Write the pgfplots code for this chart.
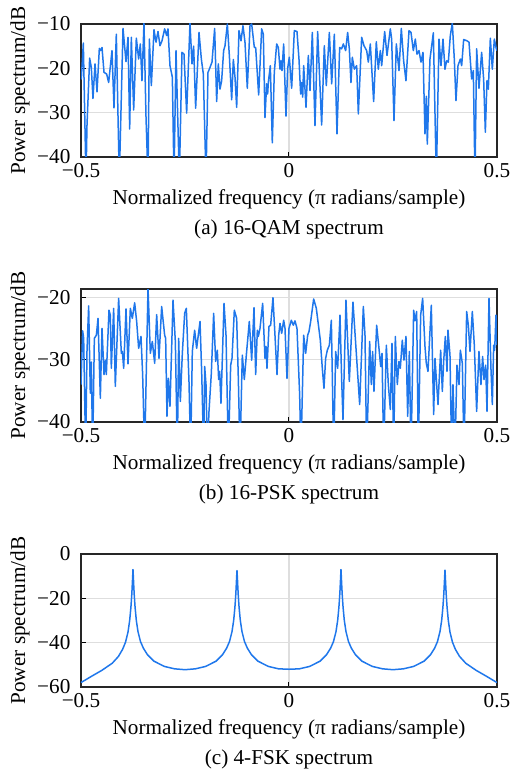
\documentclass[border=0pt]{standalone}
\usepackage{fontspec}
\setmainfont{Liberation Serif}
\usepackage{pgfplots}
\pgfplotsset{compat=1.18}
\definecolor{specblue}{RGB}{31,119,235}
\pgfplotsset{
  specaxis/.style={
    scale only axis, width=208pt, height=66.5pt,
    anchor=north west,
    xmin=-0.5, xmax=0.5,
    xtick={-0.5,0,0.5}, xticklabels={−0.5,0,0.5},
    tick pos=left,
    grid=major, major grid style={black!13, line width=0.6pt},
    major tick length=2.5pt,
    tick style={black, line width=0.5pt},
    axis line style={black!85, line width=0.7pt},
    xticklabel style={inner sep=0.5pt, yshift=-2.6pt},
    yticklabel style={inner sep=0.5pt, xshift=-4.6pt},
  },
  specline/.style={specblue, mark=none, line width=0.75pt, line join=round}
}
\begin{document}
\fontsize{10.6}{12.7}\selectfont
\begin{tikzpicture}
\path[use as bounding box] (0,0) rectangle (255pt,-387.5pt);
% ---------------- (a) 16-QAM
\begin{axis}[specaxis, name=p1, at={(40.5pt,-12pt)},
  ymin=-40, ymax=-10, ytick={-40,-30,-20,-10}, yticklabels={−40,−30,−20,−10}]
\addplot[specline] coordinates {
(-0.5,-22) (-0.4992,-22.4) (-0.4944,-14.3) (-0.4880,-45) (-0.4856,-32.9) (-0.4792,-17.7) (-0.4752,-19.8) (-0.4712,-26.8) (-0.4663,-19.0) (-0.4615,-25.3) (-0.4559,-15.5) (-0.4527,-16.0) (-0.4495,-15.3) (-0.4447,-20.9) (-0.4383,-21.3) (-0.4335,-23.2) (-0.4255,-16.0) (-0.4207,-28.9) (-0.4151,-12.3) (-0.4079,-45) (-0.3990,-11.0) (-0.3918,-18.5) (-0.3870,-13.0) (-0.3830,-33.7) (-0.3790,-13.0) (-0.3734,-29.4) (-0.3670,-13.2) (-0.3614,-17.9) (-0.3574,-14.5) (-0.3534,-22.8) (-0.3486,-9.8) (-0.3437,-31.1) (-0.3389,-45) (-0.3357,-13.4) (-0.3309,-23.9) (-0.3245,-11.3) (-0.3197,-14.1) (-0.3149,-11.7) (-0.3101,-14.9) (-0.3053,-13.8) (-0.2989,-11.1) (-0.2941,-12.6) (-0.2909,-11.1) (-0.2861,-19.4) (-0.2804,-22.0) (-0.2764,-45) (-0.2716,-16.0) (-0.2636,-45) (-0.2572,-16.4) (-0.2524,-16.8) (-0.2460,-30.1) (-0.2380,-9.8) (-0.2332,-19.0) (-0.2292,-15.0) (-0.2244,-29.0) (-0.2163,-11.9) (-0.2107,-17.9) (-0.2059,-21.3) (-0.1995,-45) (-0.1947,-20.9) (-0.1915,-20.2) (-0.1851,-18.6) (-0.1787,-11.0) (-0.1739,-27.5) (-0.1699,-19.0) (-0.1659,-24.7) (-0.1619,-22.8) (-0.1571,-16.0) (-0.1538,-14.9) (-0.1482,-10.0) (-0.1434,-17.1) (-0.1378,-27.1) (-0.1338,-18.0) (-0.1298,-22.0) (-0.1258,-28.8) (-0.1202,-11.5) (-0.1154,-13.8) (-0.1106,-10.4) (-0.1058,-14.1) (-0.1002,-24.5) (-0.0937,-10.4) (-0.0897,-10.0) (-0.0833,-15.3) (-0.0801,-15.3) (-0.0729,-26.0) (-0.0657,-11.1) (-0.0617,-12.3) (-0.0577,-31.1) (-0.0537,-23.5) (-0.0513,-25.8) (-0.0497,-23.2) (-0.0449,-19.4) (-0.0401,-36.8) (-0.0353,-20.9) (-0.0296,-14.5) (-0.0256,-15.3) (-0.0216,-20.2) (-0.0192,-18.3) (-0.0168,-20.5) (-0.0128,-14.5) (-0.0072,-30.8) (-0.0032,-20.0) (0.0008,-17.5) (0.0064,-24.5) (0.0128,-11.5) (0.0192,-11.7) (0.0240,-17.9) (0.0280,-25.8) (0.0304,-23.2) (0.0329,-26.5) (0.0353,-19.4) (0.0409,-28.8) (0.0465,-17.1) (0.0505,-25.0) (0.0561,-11.9) (0.0625,-32.9) (0.0689,-11.7) (0.0785,-32.8) (0.0849,-14.9) (0.0897,-23.9) (0.0970,-11.9) (0.1026,-23.5) (0.1090,-12.3) (0.1154,-34.8) (0.1218,-15.3) (0.1266,-15.6) (0.1306,-14.5) (0.1362,-16.0) (0.1410,-11.9) (0.1450,-15.6) (0.1490,-23.2) (0.1522,-17.5) (0.1571,-20.2) (0.1627,-19.4) (0.1667,-30.3) (0.1747,-13.0) (0.1803,-14.9) (0.1867,-16.0) (0.1907,-18.6) (0.1955,-14.5) (0.2035,-27.5) (0.2099,-14.0) (0.2147,-20.2) (0.2196,-16.0) (0.2228,-19.4) (0.2300,-11.7) (0.2356,-17.1) (0.2436,-11.1) (0.2468,-13.4) (0.2524,-31.8) (0.2580,-14.5) (0.2644,-20.5) (0.2700,-11.0) (0.2756,-18.3) (0.2812,-22.8) (0.2885,-11.5) (0.2933,-11.9) (0.2989,-16.0) (0.3037,-13.4) (0.3077,-16.8) (0.3125,-16.0) (0.3173,-18.6) (0.3221,-16.4) (0.3269,-34.8) (0.3301,-26.3) (0.3325,-37.1) (0.3389,-17.9) (0.3470,-12.0) (0.3542,-45) (0.3606,-13.4) (0.3654,-19.4) (0.3702,-13.4) (0.3750,-20.2) (0.3790,-18.3) (0.3830,-18.6) (0.3878,-12.6) (0.3926,-9.8) (0.3974,-17.9) (0.4014,-27.3) (0.4063,-19.4) (0.4119,-17.9) (0.4151,-19.4) (0.4199,-13.5) (0.4279,-13.8) (0.4327,-14.1) (0.4391,-22.4) (0.4431,-20.5) (0.4471,-45) (0.4511,-15.6) (0.4567,-24.5) (0.4631,-16.4) (0.4679,-22.4) (0.4720,-34.4) (0.4760,-22.8) (0.4792,-24.7) (0.4840,-13.2) (0.4888,-20.2) (0.4936,-13.4) (0.4984,-15.6) (0.5,-16)
};
\end{axis}
\node[rotate=90] at ([xshift=-30.5pt]p1.west) {Power spectrum/dB};
\node at ([yshift=-21pt]p1.south) {Normalized frequency (π radians/sample)};
\node at ([yshift=-36pt]p1.south) {(a) 16-QAM spectrum};
% ---------------- (b) 16-PSK
\begin{axis}[specaxis, name=p2, at={(40.5pt,-144.5pt)},
  ymin=-40, ymax=-18.7, ytick={-40,-30,-20}, yticklabels={−40,−30,−20}]
\addplot[specline] coordinates {
(-0.5,-34.0) (-0.4960,-25.4) (-0.4936,-26.6) (-0.4888,-45) (-0.4856,-28.7) (-0.4816,-21.4) (-0.4776,-35.4) (-0.4752,-30.4) (-0.4720,-45) (-0.4679,-26.6) (-0.4631,-26.1) (-0.4591,-23.4) (-0.4535,-36.2) (-0.4495,-25.0) (-0.4447,-32.4) (-0.4415,-30.1) (-0.4391,-32.4) (-0.4327,-22.1) (-0.4295,-22.9) (-0.4271,-31.4) (-0.4215,-21.8) (-0.4175,-34.3) (-0.4095,-20.2) (-0.4030,-29.0) (-0.4006,-28.7) (-0.3974,-31.4) (-0.3918,-21.9) (-0.3870,-30.7) (-0.3814,-21.8) (-0.3766,-23.4) (-0.3710,-20.9) (-0.3662,-23.9) (-0.3614,-28.2) (-0.3558,-26.3) (-0.3518,-32.4) (-0.3470,-45) (-0.3389,-18.5) (-0.3333,-29.0) (-0.3285,-27.1) (-0.3229,-30.6) (-0.3181,-22.8) (-0.3125,-29.8) (-0.3061,-21.5) (-0.2989,-26.1) (-0.2965,-26.6) (-0.2933,-39.1) (-0.2901,-33.0) (-0.2861,-37.5) (-0.2788,-20.5) (-0.2732,-27.1) (-0.2684,-45) (-0.2652,-26.6) (-0.2612,-36.7) (-0.2564,-29.0) (-0.2508,-22.6) (-0.2468,-21.8) (-0.2404,-33.5) (-0.2364,-45) (-0.2324,-28.7) (-0.2268,-25.3) (-0.2220,-28.2) (-0.2139,-23.9) (-0.2099,-31.9) (-0.2051,-45) (-0.2027,-31.1) (-0.1995,-34.0) (-0.1963,-45) (-0.1923,-38.3) (-0.1867,-32.2) (-0.1811,-22.6) (-0.1763,-30.3) (-0.1723,-28.5) (-0.1691,-33.2) (-0.1667,-31.9) (-0.1635,-37.0) (-0.1562,-21.0) (-0.1514,-26.1) (-0.1458,-45) (-0.1402,-30.9) (-0.1370,-29.8) (-0.1314,-22.1) (-0.1258,-23.4) (-0.1218,-33.0) (-0.1178,-45) (-0.1122,-29.3) (-0.1074,-33.2) (-0.1018,-28.7) (-0.0954,-23.9) (-0.0897,-30.1) (-0.0841,-21.7) (-0.0801,-32.4) (-0.0761,-25.3) (-0.0737,-26.3) (-0.0697,-25.0) (-0.0633,-21.0) (-0.0577,-29.8) (-0.0553,-27.9) (-0.0529,-31.4) (-0.0481,-24.7) (-0.0441,-24.5) (-0.0385,-20.1) (-0.0337,-26.1) (-0.0288,-32.4) (-0.0248,-26.1) (-0.0216,-24.2) (-0.0176,-25.8) (-0.0128,-23.7) (-0.0096,-25.0) (-0.0048,-33.0) (0.0,-25.0) (0.0056,-23.7) (0.0104,-24.5) (0.0144,-23.8) (0.0192,-25.0) (0.0232,-31.6) (0.0256,-35.6) (0.0288,-45) (0.0353,-26.1) (0.0401,-29.0) (0.0449,-26.1) (0.0481,-25.5) (0.0521,-23.9) (0.0593,-20.3) (0.0657,-21.8) (0.0753,-26.9) (0.0801,-31.4) (0.0841,-34.6) (0.0881,-29.8) (0.0921,-28.5) (0.0970,-27.7) (0.1018,-23.7) (0.1074,-45) (0.1122,-28.7) (0.1170,-31.4) (0.1226,-22.9) (0.1266,-33.2) (0.1298,-39.6) (0.1370,-20.5) (0.1450,-33.5) (0.1538,-20.8) (0.1699,-37.2) (0.1787,-21.5) (0.1827,-26.1) (0.1867,-45) (0.1939,-27.1) (0.1979,-34.0) (0.2011,-28.7) (0.2043,-35.1) (0.2107,-24.5) (0.2163,-28.2) (0.2204,-31.1) (0.2236,-29.0) (0.2276,-45) (0.2340,-27.7) (0.2388,-34.0) (0.2436,-38.0) (0.2476,-27.4) (0.2516,-45) (0.2556,-26.3) (0.2604,-34.0) (0.2644,-30.3) (0.2676,-31.4) (0.2724,-26.9) (0.2764,-30.1) (0.2812,-26.3) (0.2853,-39.1) (0.2893,-28.7) (0.2933,-45) (0.2997,-22.1) (0.3029,-23.8) (0.3069,-22.3) (0.3109,-45) (0.3165,-22.9) (0.3213,-20.2) (0.3269,-27.9) (0.3301,-30.6) (0.3341,-31.9) (0.3421,-21.3) (0.3478,-38.8) (0.3510,-29.8) (0.3550,-34.0) (0.3582,-37.2) (0.3646,-28.5) (0.3686,-35.1) (0.3718,-30.3) (0.3758,-26.3) (0.3798,-31.9) (0.3822,-25.3) (0.3870,-29.3) (0.3910,-45) (0.3942,-34.0) (0.3990,-45) (0.4038,-30.9) (0.4087,-34.0) (0.4119,-28.5) (0.4167,-30.6) (0.4207,-45) (0.4271,-22.3) (0.4311,-24.5) (0.4351,-28.7) (0.4407,-22.3) (0.4455,-27.7) (0.4511,-38.3) (0.4567,-28.7) (0.4615,-34.0) (0.4655,-29.5) (0.4688,-33.2) (0.4728,-30.9) (0.4760,-38.3) (0.4808,-20.2) (0.4856,-31.6) (0.4888,-37.2) (0.4920,-27.7) (0.4944,-28.5) (0.4976,-22.9) (0.5,-27.7)
};
\end{axis}
\node[rotate=90] at ([xshift=-30.5pt]p2.west) {Power spectrum/dB};
\node at ([yshift=-21pt]p2.south) {Normalized frequency (π radians/sample)};
\node at ([yshift=-36pt]p2.south) {(b) 16-PSK spectrum};
% ---------------- (c) 4-FSK
\begin{axis}[specaxis, name=p3, at={(40.5pt,-277pt)},
  ymin=-60, ymax=0, ytick={-60,-40,-20,0}, yticklabels={−60,−40,−20,0}]
\addplot[specline] coordinates {
(-0.5,-58) (-0.475,-55.2) (-0.45,-52.5) (-0.425,-49.3) (-0.41,-46.2) (-0.4,-43) (-0.393,-39.8) (-0.387,-35.2) (-0.383,-30) (-0.38,-24) (-0.378,-18.5) (-0.377,-15) (-0.376,-11) (-0.375,-7) (-0.374,-11) (-0.373,-15) (-0.372,-18.5) (-0.37,-24) (-0.367,-30) (-0.363,-35) (-0.357,-39.5) (-0.35,-42.5) (-0.34,-45.5) (-0.325,-48.3) (-0.3,-50.7) (-0.275,-51.8) (-0.25,-52.2) (-0.225,-51.8) (-0.2,-50.7) (-0.175,-48.3) (-0.16,-45.5) (-0.15,-42.5) (-0.143,-39.5) (-0.137,-35) (-0.133,-30) (-0.13,-24) (-0.128,-18.5) (-0.127,-15) (-0.126,-11) (-0.125,-7.5) (-0.124,-11) (-0.123,-15) (-0.122,-18.5) (-0.12,-24) (-0.117,-30) (-0.113,-35) (-0.107,-39.5) (-0.1,-42.5) (-0.09,-45.5) (-0.075,-48.3) (-0.05,-50.7) (-0.025,-51.8) (0,-52) (0.025,-51.8) (0.05,-50.7) (0.075,-48.3) (0.09,-45.5) (0.1,-42.5) (0.107,-39.5) (0.113,-35) (0.117,-30) (0.12,-24) (0.122,-18.5) (0.123,-15) (0.124,-11) (0.125,-7) (0.126,-11) (0.127,-15) (0.128,-18.5) (0.13,-24) (0.133,-30) (0.137,-35) (0.143,-39.5) (0.15,-42.5) (0.16,-45.5) (0.175,-48.3) (0.2,-50.7) (0.225,-51.8) (0.25,-52.2) (0.275,-51.8) (0.3,-50.7) (0.325,-48.3) (0.34,-45.5) (0.35,-42.5) (0.357,-39.5) (0.363,-35) (0.367,-30) (0.37,-24) (0.372,-18.5) (0.373,-15) (0.374,-11) (0.375,-7.3) (0.376,-11) (0.377,-15) (0.378,-18.5) (0.38,-24) (0.383,-30) (0.387,-35.2) (0.393,-39.8) (0.4,-43) (0.41,-46.2) (0.425,-49.3) (0.45,-52.5) (0.475,-55.2) (0.5,-58)
};
\end{axis}
\node[rotate=90] at ([xshift=-30.5pt]p3.west) {Power spectrum/dB};
\node at ([yshift=-21pt]p3.south) {Normalized frequency (π radians/sample)};
\node at ([yshift=-36pt]p3.south) {(c) 4-FSK spectrum};
\end{tikzpicture}
\end{document}
